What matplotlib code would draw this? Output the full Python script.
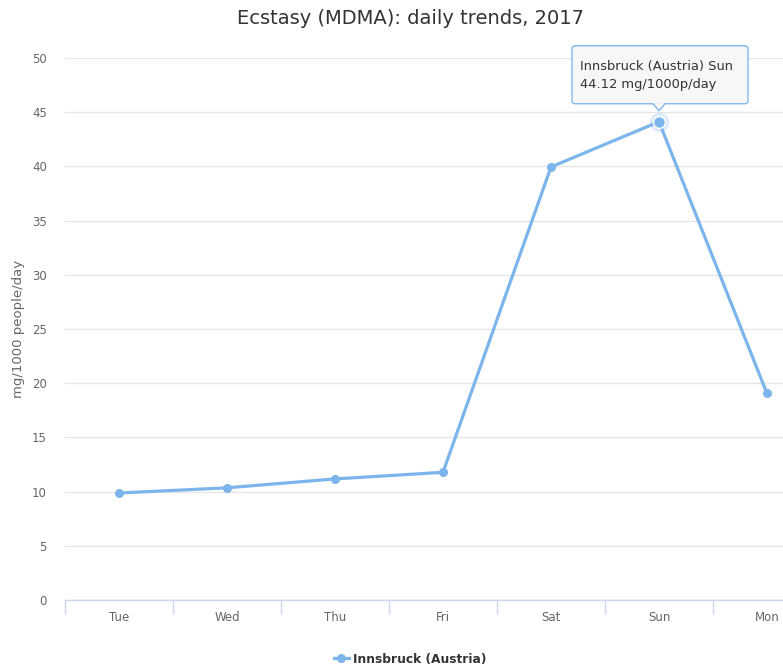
import matplotlib.pyplot as plt
import matplotlib.transforms as mtransforms
from matplotlib.patches import Polygon, FancyBboxPatch

days = ['Tue', 'Wed', 'Thu', 'Fri', 'Sat', 'Sun', 'Mon']
innsbruck = [9.87, 10.35, 11.17, 11.78, 39.95, 44.12, 19.05]
series_name = 'Innsbruck (Austria)'
title = 'Ecstasy (MDMA): daily trends, 2017'
y_ticks = [0, 5, 10, 15, 20, 25, 30, 35, 40, 45, 50]

blue = '#7cb5ec'
W, H = 783, 669
plt.rcParams['font.family'] = ['DejaVu Sans']

fig = plt.figure(figsize=(W / 100, H / 100), dpi=100)
# plot area runs past the right edge of the picture (Mon is cut off)
ax = fig.add_axes([65 / W, (H - 600) / H, 756 / W, 542 / H])

x = list(range(len(days)))
ax.plot(x, innsbruck, color=blue, lw=2.3, marker='o', ms=6.5,
        markeredgewidth=0, solid_joinstyle='round', clip_on=False, zorder=3)

# hovered point
hi = days.index('Sun')
ax.plot(x[hi], innsbruck[hi], 'o', ms=14, color=blue, alpha=0.25,
        markeredgewidth=0, zorder=2)
ax.plot(x[hi], innsbruck[hi], 'o', ms=8.5, color=blue,
        markeredgecolor='white', markeredgewidth=1, zorder=4)

ax.set_xlim(-0.5, len(days) - 0.5)
ax.set_ylim(0, 50)
ax.set_yticks(y_ticks)
ax.set_xticks(x)
ax.set_xticklabels(days)
ax.set_xticks([i - 0.5 for i in range(len(days) + 1)], minor=True)
ax.tick_params(axis='x', which='major', length=0, pad=8, labelsize=8.5, labelcolor='#666666')
ax.tick_params(axis='x', which='minor', length=10, width=1, color='#ccd6eb')
ax.tick_params(axis='y', length=0, pad=13, labelsize=8.5, labelcolor='#666666')
ax.grid(axis='y', color='#e6e6e6', lw=1)
ax.set_axisbelow(True)
for s in ['top', 'right', 'left']:
    ax.spines[s].set_visible(False)
ax.spines['bottom'].set_color('#ccd6eb')
ax.spines['bottom'].set_linewidth(1)

ax.set_ylabel('mg/1000 people/day', fontsize=9.5, color='#666666', labelpad=5)

fig.text(410 / W, 1 - 18 / H, title, ha='center', va='center',
         fontsize=14, color='#333333')

# tooltip, sized in pixels around the hovered point
pt = mtransforms.ScaledTranslation(x[hi], innsbruck[hi], ax.transData)
tr = fig.dpi_scale_trans + pt
box = FancyBboxPatch((-87 / 100, 18 / 100), 176 / 100, 58 / 100,
                     boxstyle='round,pad=0,rounding_size=0.03',
                     fc='#f7f7f7', ec=blue, lw=1, alpha=0.95,
                     transform=tr, zorder=6, clip_on=False)
ax.add_patch(box)
tri = Polygon([[-6 / 100, 18.6 / 100], [6 / 100, 18.6 / 100], [0, 11 / 100]],
              closed=True, fc='#f7f7f7', ec='none', transform=tr, zorder=7, clip_on=False)
ax.add_patch(tri)
edge = Polygon([[-6 / 100, 18 / 100], [0, 11 / 100], [6 / 100, 18 / 100]],
               closed=False, fill=False, ec=blue, lw=1, transform=tr, zorder=7,
               clip_on=False)
ax.add_patch(edge)
tip = '%s %s\n%.2f mg/1000p/day' % (series_name, days[hi], innsbruck[hi])
ax.text(-79 / 100, 46 / 100, tip, transform=tr, ha='left', va='center',
        fontsize=9.4, color='#333333', linespacing=1.45, zorder=8, clip_on=False)

leg = fig.legend(handles=[plt.Line2D([], [], color=blue, lw=2.3, marker='o', ms=6.5,
                                     markeredgewidth=0)],
                 labels=[series_name], loc='center', bbox_to_anchor=(410 / W, 10 / H),
                 frameon=False, handlelength=1.3, handletextpad=0.3,
                 prop={'size': 8.8, 'weight': 'bold'})
for t in leg.get_texts():
    t.set_color('#333333')

fig.savefig('out.png', dpi=100)
